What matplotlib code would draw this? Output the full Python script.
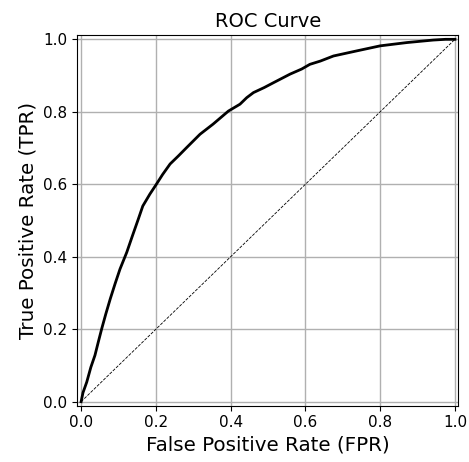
# ROC curve with the chance diagonal

import matplotlib
matplotlib.use("Agg")
import matplotlib.pyplot as plt

# points
fpr = [0.0, 0.005, 0.015, 0.026, 0.037, 0.046, 0.055, 0.066, 0.078, 0.091,
       0.104, 0.122, 0.137, 0.153, 0.165, 0.184, 0.200, 0.218, 0.238, 0.260,
       0.283, 0.318, 0.353, 0.394, 0.425, 0.443, 0.461, 0.490, 0.514, 0.559,
       0.590, 0.612, 0.640, 0.675, 0.737, 0.800, 0.871, 0.942, 0.975, 1.0]
tpr = [0.0, 0.025, 0.054, 0.095, 0.128, 0.165, 0.201, 0.242, 0.284, 0.326,
       0.366, 0.412, 0.457, 0.504, 0.540, 0.573, 0.598, 0.627, 0.656, 0.678,
       0.702, 0.738, 0.766, 0.802, 0.821, 0.839, 0.853, 0.867, 0.880, 0.904,
       0.918, 0.931, 0.940, 0.954, 0.968, 0.982, 0.991, 0.998, 1.0, 1.0]

fig = plt.figure(figsize=(4.69, 4.62), dpi=100)
ax = fig.add_axes([0.1642, 0.1219, 0.813, 0.8024])

ax.plot(fpr, tpr, color="black", linewidth=2)
ax.plot([0, 1], [0, 1], color="black", linestyle="--", linewidth=0.6)

ax.set_xlim(-0.011, 1.009)
ax.set_ylim(-0.011, 1.012)
ax.grid(True, color="#b0b0b0", linewidth=1.0)
ax.set_axisbelow(True)
ax.tick_params(labelsize=11)

ax.set_title("ROC Curve", fontsize=14)
ax.set_xlabel("False Positive Rate (FPR)", fontsize=14.3)
ax.set_ylabel("True Positive Rate (TPR)", fontsize=14.3)

fig.savefig("out.png", dpi=100)
